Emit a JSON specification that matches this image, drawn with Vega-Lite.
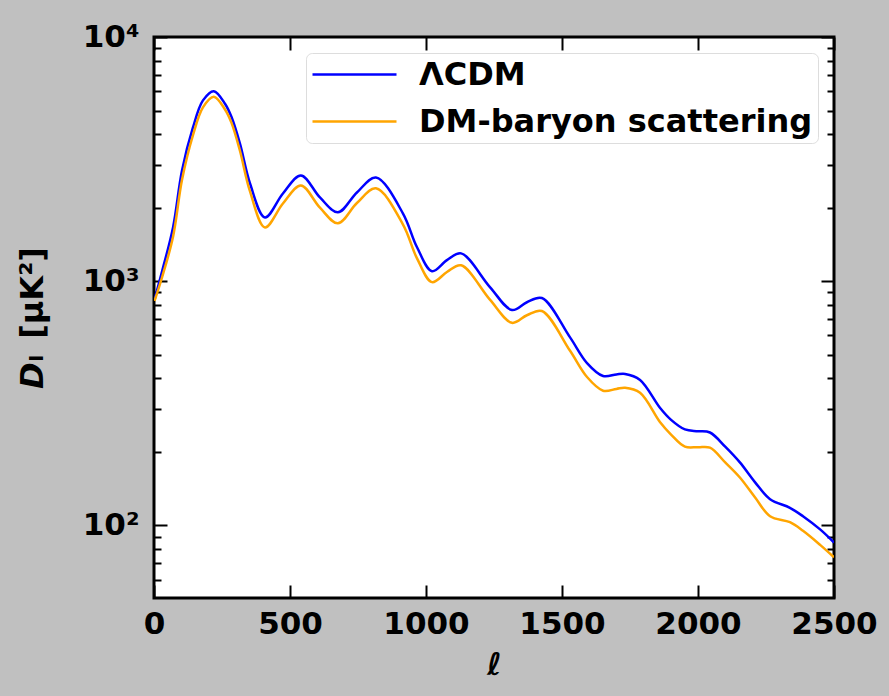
{
  "$schema": "https://vega.github.io/schema/vega-lite/v6.json",
  "width": 680,
  "height": 561,
  "autosize": {"type": "none"},
  "padding": {"left": 154, "top": 37, "right": 55, "bottom": 98},
  "background": "#c0c0c0",
  "config": {
    "font": "DejaVu Sans",
    "view": {"stroke": "black", "strokeWidth": 3, "fill": "white"},
    "axis": {
      "domain": false, "grid": false, "tickColor": "black", "tickWidth": 2,
      "labelFont": "DejaVu Sans", "labelFontWeight": "bold", "labelFontSize": 31, "labelColor": "black",
      "titleFont": "DejaVu Sans", "titleFontWeight": "bold", "titleColor": "black",
      "labelFlush": false, "labelOverlap": false, "labelBound": false, "zindex": 1
    }
  },
  "data": {"values": [
    {"l": 2, "D": 840, "model": "ΛCDM"},
    {"l": 30, "D": 1100, "model": "ΛCDM"},
    {"l": 70, "D": 1660, "model": "ΛCDM"},
    {"l": 103, "D": 2840, "model": "ΛCDM"},
    {"l": 143, "D": 4250, "model": "ΛCDM"},
    {"l": 180, "D": 5500, "model": "ΛCDM"},
    {"l": 220, "D": 6000, "model": "ΛCDM"},
    {"l": 261, "D": 5330, "model": "ΛCDM"},
    {"l": 285, "D": 4700, "model": "ΛCDM"},
    {"l": 316, "D": 3657, "model": "ΛCDM"},
    {"l": 353, "D": 2512, "model": "ΛCDM"},
    {"l": 408, "D": 1824, "model": "ΛCDM"},
    {"l": 474, "D": 2287, "model": "ΛCDM"},
    {"l": 540, "D": 2710, "model": "ΛCDM"},
    {"l": 610, "D": 2203, "model": "ΛCDM"},
    {"l": 676, "D": 1914, "model": "ΛCDM"},
    {"l": 746, "D": 2307, "model": "ΛCDM"},
    {"l": 816, "D": 2658, "model": "ΛCDM"},
    {"l": 915, "D": 1897, "model": "ΛCDM"},
    {"l": 967, "D": 1377, "model": "ΛCDM"},
    {"l": 1022, "D": 1099, "model": "ΛCDM"},
    {"l": 1077, "D": 1219, "model": "ΛCDM"},
    {"l": 1129, "D": 1300, "model": "ΛCDM"},
    {"l": 1235, "D": 946, "model": "ΛCDM"},
    {"l": 1316, "D": 762, "model": "ΛCDM"},
    {"l": 1371, "D": 820, "model": "ΛCDM"},
    {"l": 1426, "D": 853, "model": "ΛCDM"},
    {"l": 1529, "D": 590, "model": "ΛCDM"},
    {"l": 1592, "D": 462, "model": "ΛCDM"},
    {"l": 1651, "D": 409, "model": "ΛCDM"},
    {"l": 1700, "D": 415, "model": "ΛCDM"},
    {"l": 1732, "D": 417, "model": "ΛCDM"},
    {"l": 1787, "D": 394, "model": "ΛCDM"},
    {"l": 1860, "D": 303, "model": "ΛCDM"},
    {"l": 1900, "D": 271, "model": "ΛCDM"},
    {"l": 1952, "D": 247, "model": "ΛCDM"},
    {"l": 2000, "D": 243, "model": "ΛCDM"},
    {"l": 2044, "D": 240, "model": "ΛCDM"},
    {"l": 2100, "D": 210, "model": "ΛCDM"},
    {"l": 2154, "D": 181, "model": "ΛCDM"},
    {"l": 2210, "D": 150, "model": "ΛCDM"},
    {"l": 2265, "D": 128, "model": "ΛCDM"},
    {"l": 2338, "D": 118, "model": "ΛCDM"},
    {"l": 2386, "D": 109, "model": "ΛCDM"},
    {"l": 2450, "D": 96, "model": "ΛCDM"},
    {"l": 2500, "D": 85, "model": "ΛCDM"},
    {"l": 2, "D": 830, "model": "DM-baryon scattering"},
    {"l": 30, "D": 1040, "model": "DM-baryon scattering"},
    {"l": 70, "D": 1520, "model": "DM-baryon scattering"},
    {"l": 103, "D": 2600, "model": "DM-baryon scattering"},
    {"l": 143, "D": 3950, "model": "DM-baryon scattering"},
    {"l": 180, "D": 5150, "model": "DM-baryon scattering"},
    {"l": 220, "D": 5690, "model": "DM-baryon scattering"},
    {"l": 261, "D": 5050, "model": "DM-baryon scattering"},
    {"l": 285, "D": 4450, "model": "DM-baryon scattering"},
    {"l": 316, "D": 3420, "model": "DM-baryon scattering"},
    {"l": 353, "D": 2330, "model": "DM-baryon scattering"},
    {"l": 408, "D": 1660, "model": "DM-baryon scattering"},
    {"l": 474, "D": 2080, "model": "DM-baryon scattering"},
    {"l": 540, "D": 2466, "model": "DM-baryon scattering"},
    {"l": 610, "D": 2000, "model": "DM-baryon scattering"},
    {"l": 676, "D": 1726, "model": "DM-baryon scattering"},
    {"l": 746, "D": 2090, "model": "DM-baryon scattering"},
    {"l": 816, "D": 2400, "model": "DM-baryon scattering"},
    {"l": 915, "D": 1710, "model": "DM-baryon scattering"},
    {"l": 967, "D": 1240, "model": "DM-baryon scattering"},
    {"l": 1022, "D": 991, "model": "DM-baryon scattering"},
    {"l": 1077, "D": 1090, "model": "DM-baryon scattering"},
    {"l": 1129, "D": 1161, "model": "DM-baryon scattering"},
    {"l": 1235, "D": 840, "model": "DM-baryon scattering"},
    {"l": 1316, "D": 675, "model": "DM-baryon scattering"},
    {"l": 1371, "D": 725, "model": "DM-baryon scattering"},
    {"l": 1426, "D": 755, "model": "DM-baryon scattering"},
    {"l": 1529, "D": 520, "model": "DM-baryon scattering"},
    {"l": 1592, "D": 405, "model": "DM-baryon scattering"},
    {"l": 1651, "D": 356, "model": "DM-baryon scattering"},
    {"l": 1700, "D": 362, "model": "DM-baryon scattering"},
    {"l": 1732, "D": 366, "model": "DM-baryon scattering"},
    {"l": 1787, "D": 349, "model": "DM-baryon scattering"},
    {"l": 1860, "D": 265, "model": "DM-baryon scattering"},
    {"l": 1900, "D": 236, "model": "DM-baryon scattering"},
    {"l": 1952, "D": 210, "model": "DM-baryon scattering"},
    {"l": 2000, "D": 209, "model": "DM-baryon scattering"},
    {"l": 2044, "D": 208, "model": "DM-baryon scattering"},
    {"l": 2100, "D": 181, "model": "DM-baryon scattering"},
    {"l": 2154, "D": 157, "model": "DM-baryon scattering"},
    {"l": 2210, "D": 130, "model": "DM-baryon scattering"},
    {"l": 2265, "D": 109, "model": "DM-baryon scattering"},
    {"l": 2338, "D": 103, "model": "DM-baryon scattering"},
    {"l": 2386, "D": 95, "model": "DM-baryon scattering"},
    {"l": 2450, "D": 83, "model": "DM-baryon scattering"},
    {"l": 2500, "D": 74, "model": "DM-baryon scattering"}
  ]},
  "layer": [
    {
      "mark": {"type": "line", "opacity": 0},
      "encoding": {
        "x": {"field": "l", "type": "quantitative", "scale": {"domain": [0, 2500], "nice": false, "zero": false},
              "axis": {"orient": "top", "values": [0, 500, 1000, 1500, 2000, 2500], "labels": false, "tickSize": -13, "title": null}},
        "y": {"field": "D", "type": "quantitative", "scale": {"type": "log", "domain": [50.4, 10000], "nice": false},
              "axis": {"orient": "right", "values": [100, 1000, 10000], "labels": false, "tickSize": -13, "title": null}}
      }
    },
    {
      "mark": {"type": "line", "opacity": 0},
      "encoding": {
        "x": {"field": "l", "type": "quantitative", "axis": null},
        "y": {"field": "D", "type": "quantitative",
              "axis": {"orient": "left", "values": [50, 60, 70, 80, 90, 200, 300, 400, 500, 600, 700, 800, 900, 2000, 3000, 4000, 5000, 6000, 7000, 8000, 9000], "labels": false, "tickSize": -7, "title": null}}
      }
    },
    {
      "mark": {"type": "line", "opacity": 0},
      "encoding": {
        "x": {"field": "l", "type": "quantitative", "axis": null},
        "y": {"field": "D", "type": "quantitative",
              "axis": {"orient": "right", "values": [50, 60, 70, 80, 90, 200, 300, 400, 500, 600, 700, 800, 900, 2000, 3000, 4000, 5000, 6000, 7000, 8000, 9000], "labels": false, "tickSize": -7, "title": null}}
      }
    },
    {
      "mark": {"type": "line", "strokeWidth": 2.5, "clip": true, "interpolate": "catmull-rom"},
      "encoding": {
        "x": {"field": "l", "type": "quantitative",
              "axis": {"orient": "bottom", "values": [0, 500, 1000, 1500, 2000, 2500], "format": "d", "tickSize": -13, "labelPadding": 24,
                       "title": "ℓ", "titleFontSize": 31, "titleFontStyle": "italic", "titlePadding": 11}},
        "y": {"field": "D", "type": "quantitative",
              "axis": {"orient": "left", "values": [100, 1000, 10000], "tickSize": -13, "labelPadding": 28,
                       "labelExpr": "datum.value == 10000 ? '10⁴' : datum.value == 1000 ? '10³' : '10²'",
                       "title": "𝘿ₗ\u2002[μK²]", "titleFontSize": 32, "titlePadding": 33}},
        "color": {"field": "model", "type": "nominal",
                  "scale": {"domain": ["ΛCDM", "DM-baryon scattering"], "range": ["#0000ff", "#ffa500"]},
                  "legend": {"title": null, "orient": "top-right", "offset": 16, "symbolType": "M-2.8,0H2.8",
                             "symbolSize": 900, "symbolStrokeWidth": 2.5, "symbolOffset": 27, "labelFontSize": 32, "labelFontWeight": "bold",
                             "labelFont": "DejaVu Sans", "labelColor": "black", "labelLimit": 800, "labelOffset": 48,
                             "rowPadding": 14, "padding": 5, "strokeColor": "#dddddd", "fillColor": "white", "cornerRadius": 6}}
      }
    }
  ],
  "resolve": {"axis": {"x": "independent", "y": "independent"}}
}
